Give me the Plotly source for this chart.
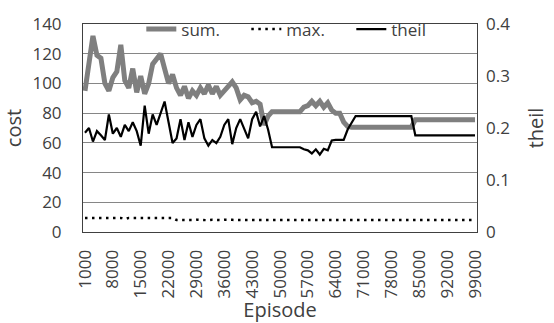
import plotly.graph_objects as go

episodes = [str(v) for v in range(1000, 100000, 1000)]
tick_labels = ["1000", "8000", "15000", "22000", "29000", "36000", "43000", "50000",
               "57000", "64000", "71000", "78000", "85000", "92000", "99000"]

sum_cost = [95, 112, 132, 119, 117, 100, 95, 104, 108, 126,
            102, 97, 110, 94, 105, 93, 100, 113, 116, 120,
            110, 100, 106, 97, 92, 98, 90, 95, 92, 97,
            93, 99, 93, 98, 92, 95, 97, 101, 97, 89,
            92, 91, 87, 88, 86, 72, 78, 81, 81, 81,
            81, 81, 81, 81, 81, 84, 85, 88, 85, 88,
            84, 87, 82, 80, 80, 74, 71, 70.5, 70.5, 70.5,
            70.5, 70.5, 70.5, 70.5, 70.5, 70.5, 70.5, 70.5, 70.5, 70.5,
            70.5, 70.5, 70.5, 75.5, 75.5, 75.5, 75.5, 75.5, 75.5, 75.5,
            75.5, 75.5, 75.5, 75.5, 75.5, 75.5, 75.5, 75.5, 75.5]

max_cost = [9.5, 9.5, 9.5, 9.5, 9.5, 9.5, 9.5, 9.5, 9.5, 9.5,
            8.7, 9.5, 9.5, 9.5, 9.5, 9.5, 9.5, 9.5, 9.5, 9.5,
            9.5, 9.5, 9.5, 8.1, 8.0, 8.0, 8.2, 8.0, 8.3, 8.0,
            8.0, 7.9, 8.2, 8.0, 8.0, 8.3, 8.0, 8.2, 8.0, 7.9,
            8.0, 8.0, 8.0, 8.0, 8.0, 8.0, 8.0, 8.0, 8.0, 8.0,
            8.0, 8.0, 8.0, 8.0, 8.0, 8.0, 8.0, 8.0, 8.0, 8.0,
            8.0, 8.0, 8.0, 8.0, 8.0, 8.0, 8.0, 8.0, 8.0, 8.0,
            8.0, 8.0, 8.0, 8.0, 8.0, 8.0, 8.0, 8.0, 8.0, 8.0,
            8.0, 8.0, 8.0, 8.0, 8.0, 8.0, 8.0, 8.0, 8.0, 8.0,
            8.0, 8.0, 8.0, 8.0, 8.0, 8.0, 8.0, 8.0, 8.0]

theil = [0.191, 0.200, 0.174, 0.194, 0.186, 0.177, 0.226, 0.189, 0.200, 0.183,
         0.206, 0.194, 0.211, 0.194, 0.166, 0.243, 0.189, 0.226, 0.206, 0.229,
         0.251, 0.211, 0.171, 0.180, 0.217, 0.177, 0.211, 0.183, 0.206, 0.217,
         0.180, 0.166, 0.177, 0.171, 0.183, 0.206, 0.217, 0.169, 0.200, 0.217,
         0.200, 0.180, 0.217, 0.231, 0.203, 0.223, 0.197, 0.163, 0.163, 0.163,
         0.163, 0.163, 0.163, 0.163, 0.163, 0.159, 0.157, 0.151, 0.159, 0.149,
         0.160, 0.157, 0.176, 0.177, 0.177, 0.177, 0.197, 0.211, 0.223, 0.223,
         0.223, 0.223, 0.223, 0.223, 0.223, 0.223, 0.223, 0.223, 0.223, 0.223,
         0.223, 0.223, 0.223, 0.186, 0.186, 0.186, 0.186, 0.186, 0.186, 0.186,
         0.186, 0.186, 0.186, 0.186, 0.186, 0.186, 0.186, 0.186, 0.186]

TXT = "#404040"
fig = go.Figure()
fig.add_trace(go.Scatter(x=episodes, y=sum_cost, name="sum.", mode="lines",
                         line=dict(color="#7f7f7f", width=5)))
fig.add_trace(go.Scatter(x=episodes, y=max_cost, name="max.", mode="lines",
                         line=dict(color="#000000", width=2.5, dash="2.5px,4.5px")))
fig.add_trace(go.Scatter(x=episodes, y=theil, name="theil", mode="lines", yaxis="y2",
                         line=dict(color="#000000", width=2.2)))

fig.update_layout(
    width=554, height=323,
    margin=dict(l=83, r=77, t=16, b=91),
    paper_bgcolor="white", plot_bgcolor="white",
    font=dict(family="Open Sans", size=17, color=TXT),
    showlegend=True,
    legend=dict(orientation="h", x=0.148, y=1.06, xanchor="left", yanchor="top",
                bgcolor="rgba(0,0,0,0)", font=dict(size=17, color=TXT),
                entrywidth=60, entrywidthmode="pixels"),
    xaxis=dict(type="category", range=[-0.5, 98.5], tickmode="array",
               tickvals=tick_labels, ticktext=tick_labels, tickangle=-90,
               showgrid=False, showline=True, linecolor="#404040", linewidth=1,
               mirror=True, ticks="", ticklabelstandoff=10, automargin=False,
               title=dict(text="Episode", standoff=2)),
    yaxis=dict(range=[0, 140], dtick=20, tick0=0, showgrid=True, gridcolor="#868686",
               gridwidth=1, zeroline=False, showline=True, linecolor="#404040",
               linewidth=1, mirror=True, ticks="", ticklabelstandoff=17, automargin=False,
               title=dict(text="cost", standoff=12)),
    yaxis2=dict(overlaying="y", side="right", range=[0, 0.4],
                tickvals=[0, 0.1, 0.2, 0.3, 0.4], ticktext=["0", "0.1", "0.2", "0.3", "0.4"],
                showgrid=False, zeroline=False, showline=False, ticks="", automargin=False,
                ticklabelstandoff=8, title=dict(text="theil", standoff=19)),
)

fig.write_html("out.html", config={"displayModeBar": False},
               post_script="document.body.style.margin='0';document.body.style.overflow='hidden';")
